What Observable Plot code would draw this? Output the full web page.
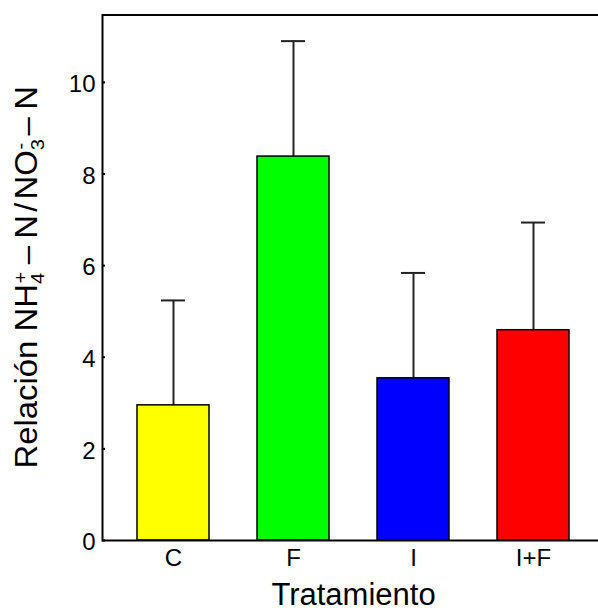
<!DOCTYPE html>
<html>
<head>
<meta charset="utf-8">
<script src="https://cdn.jsdelivr.net/npm/d3@7"></script>
<script src="https://cdn.jsdelivr.net/npm/@observablehq/plot@0.6"></script>
<style>
  html, body { margin: 0; padding: 0; background: white; overflow: hidden; }
</style>
</head>
<body>
<div id="chart"></div>
<script>
const treatments = ["C", "F", "I", "I+F"];
const means = [2.95, 8.38, 3.54, 4.59];
const upper = [5.24, 10.90, 5.84, 6.94];
const colors = ["#ffff00", "#00ff00", "#0000ff", "#ff0000"];
const yTicks = [0, 2, 4, 6, 8, 10];
const yMax = 11.47;
const xTitle = "Tratamiento";

const data = treatments.map((t, i) => ({t, m: means[i], u: upper[i]}));

const W = 598, H = 610, mL = 102, mR = -6, mT = 14.5, mB = 70;
const FONT = "'Liberation Sans', Arial, sans-serif";

const plot = Plot.plot({
  width: W, height: H,
  marginLeft: mL, marginRight: mR, marginTop: mT, marginBottom: mB,
  style: {fontFamily: FONT, background: "white", overflow: "hidden", color: "black"},
  x: {domain: treatments, paddingInner: 0.4, paddingOuter: 0.29, label: null},
  y: {domain: [0, yMax], label: null},
  color: {domain: treatments, range: colors},
  marks: [
    Plot.ruleX(data, {x: "t", y1: "m", y2: "u", stroke: "#222", strokeWidth: 2}),
    Plot.tickY(data, {x: "t", y: "u", stroke: "#222", strokeWidth: 2, insetLeft: 24, insetRight: 24}),
    Plot.barY(data, {x: "t", y: "m", fill: "t", stroke: "black", strokeWidth: 1.5}),
    Plot.ruleY(yTicks, {stroke: "black", strokeWidth: 2, insetRight: (W - mL - mR) - 3}),
    Plot.frame({stroke: "black", strokeWidth: 2}),
    Plot.axisY(yTicks, {tickSize: 0, tickPadding: 7, fontSize: 24, dy: 2, label: null}),
    Plot.axisX({tickSize: 0, tickPadding: 8, fontSize: 24, label: null}),
    Plot.text([xTitle], {frameAnchor: "bottom", lineAnchor: "bottom", dy: 64, fontSize: 31})
  ]
});

document.getElementById("chart").appendChild(plot);

// Y axis title with sub/superscripts
const yScale = plot.scale("y");
const cy = (yScale.apply(0) + yScale.apply(yMax)) / 2;
const stretch = 1.06;
const svg = d3.select(plot);
const t = svg.append("text")
  .attr("transform", `translate(37,${cy}) rotate(-90) scale(${stretch},1)`)
  .attr("text-anchor", "start")
  .attr("font-family", FONT)
  .attr("font-size", 31)
  .attr("fill", "black");
t.append("tspan").text("Relación NH");
t.append("tspan").attr("font-size", 19).attr("dy", 7).text("4");
t.append("tspan").attr("font-size", 19).attr("dx", -10).attr("dy", -17).text("+");
t.append("tspan").attr("dy", 10).attr("dx", 7).text("–");
t.append("tspan").attr("dx", 7).text("N");
t.append("tspan").attr("dx", 3).text("/");
t.append("tspan").attr("dx", 3).text("NO");
t.append("tspan").attr("font-size", 19).attr("dy", 7).text("3");
t.append("tspan").attr("font-size", 19).attr("dx", -10).attr("dy", -17).text("-");
t.append("tspan").attr("dy", 10).attr("dx", 7).text("–");
t.append("tspan").attr("dx", 7).text("N");
const bb = t.node().getBBox();
const mid = bb.x + bb.width / 2;
t.attr("transform", `translate(37,${cy + stretch * mid}) rotate(-90) scale(${stretch},1)`);
</script>
</body>
</html>
